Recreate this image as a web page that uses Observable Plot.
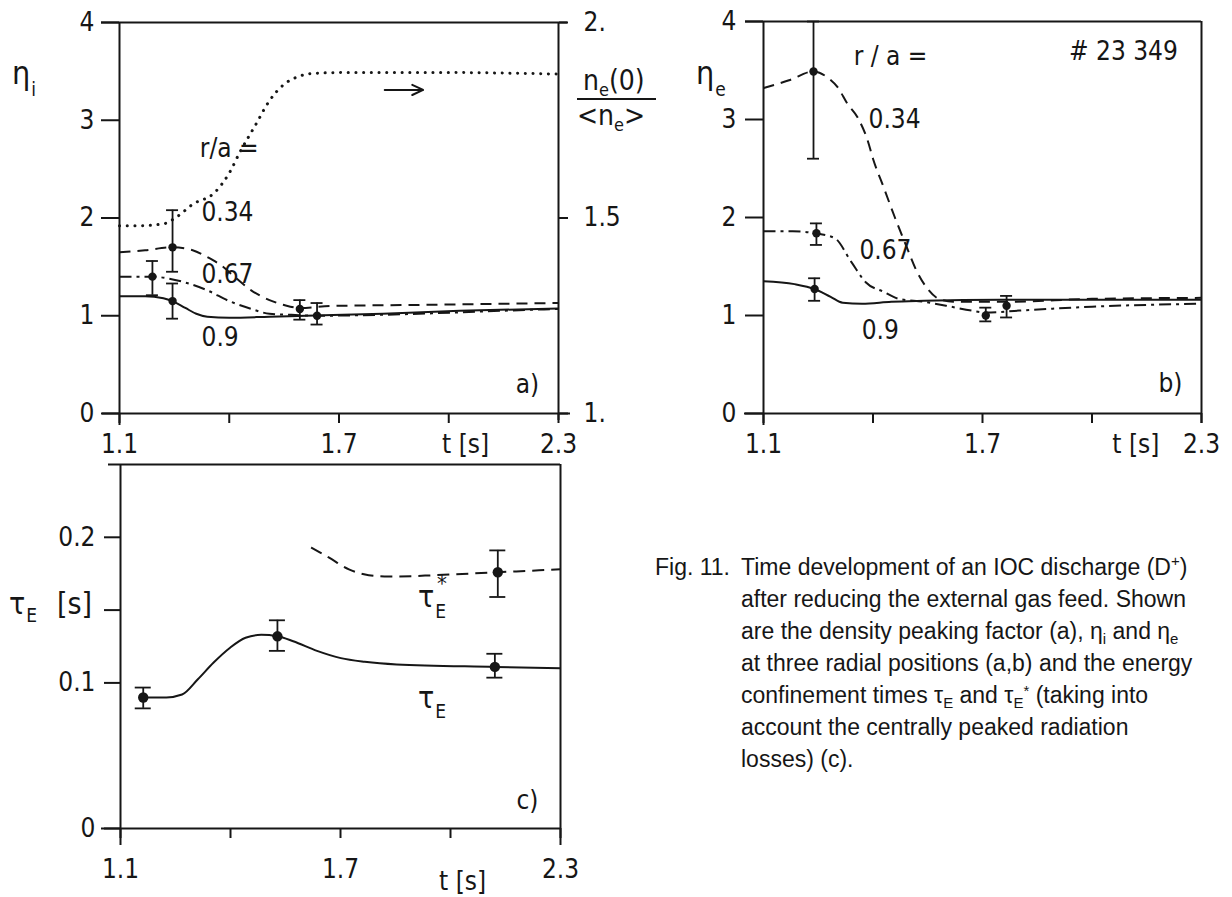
<!DOCTYPE html>
<html><head><meta charset="utf-8">
<script src="https://cdn.jsdelivr.net/npm/d3@7"></script>
<script src="https://cdn.jsdelivr.net/npm/@observablehq/plot@0.6"></script>
<style>
body{margin:0;background:#fff;}
#wrap{position:relative;width:1232px;height:897px;overflow:hidden;background:#fff;}
#wrap > div.p{position:absolute;}
#overlay{position:absolute;left:0;top:0;pointer-events:none;}
</style></head><body><div id="wrap"></div>
<script>
// ---------------- DATA ----------------
// Panel a: density peaking factor ne(0)/<ne> (right axis, dotted)
const tA_ratio = [1.1,1.15,1.22,1.26,1.30,1.36,1.40,1.43,1.47,1.51,1.55,1.59,1.63,1.72,2.0,2.3];
const ratioA   = [1.48,1.48,1.485,1.505,1.535,1.565,1.615,1.67,1.735,1.80,1.842,1.862,1.87,1.872,1.872,1.868];
// Panel a: eta_i at r/a = 0.34 (dashed), 0.67 (dash-dot), 0.9 (solid)
const tA_034 = [1.1,1.17,1.245,1.30,1.34,1.38,1.42,1.46,1.51,1.55,1.593,1.68,1.9,2.1,2.3];
const etaA_034 = [1.65,1.67,1.70,1.67,1.60,1.51,1.38,1.26,1.16,1.11,1.08,1.10,1.11,1.12,1.13];
const tA_067 = [1.1,1.19,1.235,1.28,1.34,1.40,1.46,1.51,1.57,1.64,1.82,2.14,2.3];
const etaA_067 = [1.40,1.40,1.38,1.34,1.26,1.15,1.07,1.02,1.01,1.0,1.01,1.05,1.07];
const tA_090 = [1.1,1.17,1.22,1.245,1.28,1.31,1.34,1.40,1.51,1.61,1.82,2.03,2.3];
const etaA_090 = [1.20,1.20,1.18,1.15,1.08,1.02,0.99,0.98,0.99,1.0,1.02,1.05,1.075];
// Panel a measured points with error bars
const ptA_t  = [1.245,1.19,1.245,1.593,1.64];
const ptA_v  = [1.70,1.40,1.15,1.07,1.00];
const ptA_lo = [1.45,1.21,0.97,0.96,0.91];
const ptA_hi = [2.08,1.56,1.33,1.16,1.13];

// Panel b: eta_e
const tB_034 = [1.1,1.17,1.237,1.275,1.303,1.33,1.358,1.385,1.40,1.43,1.46,1.49,1.52,1.55,1.58,1.62,1.70,1.77,2.0,2.3];
const etaB_034 = [3.32,3.40,3.49,3.43,3.33,3.16,3.02,2.79,2.60,2.30,2.00,1.72,1.45,1.27,1.17,1.14,1.14,1.14,1.17,1.18];
const tB_067 = [1.1,1.18,1.24,1.295,1.34,1.38,1.43,1.47,1.54,1.60,1.67,1.71,1.80,2.0,2.3];
const etaB_067 = [1.86,1.86,1.84,1.79,1.55,1.34,1.24,1.17,1.14,1.10,1.05,1.03,1.05,1.09,1.12];
const tB_090 = [1.1,1.185,1.24,1.284,1.317,1.37,1.45,1.54,1.75,2.3];
const etaB_090 = [1.35,1.32,1.27,1.19,1.13,1.12,1.14,1.15,1.16,1.16];
const ptB_t  = [1.237,1.245,1.24,1.766,1.709];
const ptB_v  = [3.49,1.84,1.27,1.10,1.00];
const ptB_lo = [2.60,1.72,1.15,0.98,0.94];
const ptB_hi = [4.00,1.94,1.38,1.20,1.08];

// Panel c: energy confinement times
const tC_tau = [1.162,1.225,1.268,1.311,1.354,1.398,1.441,1.484,1.528,1.571,1.636,1.701,1.766,1.853,2.121,2.3];
const tauC   = [0.090,0.090,0.092,0.1025,0.114,0.124,0.131,0.133,0.132,0.1286,0.122,0.117,0.1145,0.1127,0.111,0.110];
const tC_tauStar = [1.62,1.669,1.723,1.777,1.831,1.961,2.129,2.3];
const tauStarC   = [0.193,0.186,0.178,0.174,0.173,0.174,0.176,0.178];
const ptC_t  = [1.162,1.528,2.121,2.129];
const ptC_v  = [0.090,0.132,0.111,0.176];
const ptC_lo = [0.0825,0.122,0.1036,0.159];
const ptC_hi = [0.0968,0.143,0.120,0.191];

// Tick values and labels
const tTicks = [1.1,1.4,1.7,2.0,2.3];
const tLabeled = [1.1,1.7,2.3];
const etaTicks = [0,1,2,3,4];
const ratioTicks = [1,1.5,2];
const ratioLabels = ["1.","1.5","2."];
const tauTicks = [0,0.1,0.15,0.2];
const tauLabeled = [0,0.1,0.2];

// In-plot annotations (data coordinates)
const notesA = [
  {t:1.40, v:2.71, s:"r/a ="},
  {t:1.395, v:2.05, s:"0.34"},
  {t:1.395, v:1.42, s:"0.67"},
  {t:1.375, v:0.78, s:"0.9"},
  {t:2.215, v:0.30, s:"a)"}
];
const arrowA = [{t1:1.825, t2:1.93, v:3.31}];
const notesB = [
  {t:1.448, v:3.64, s:"r / a ="},
  {t:2.086, v:3.69, s:"# 23 349"},
  {t:1.459, v:3.00, s:"0.34"},
  {t:1.434, v:1.66, s:"0.67"},
  {t:1.42, v:0.85, s:"0.9"},
  {t:2.215, v:0.30, s:"b)"}
];
const notesC = [
  {t:2.21, v:0.019, s:"c)"}
];

// ---------------- DRAWING ----------------
const INK = "#161616";
const FONT = "'DejaVu Sans Condensed','DejaVu Sans',sans-serif";
const FS = 26;
const rows = (ts, vs) => ts.map((t,i)=>({t, v:vs[i]}));
const pts = (ts, vs, lo, hi) => ts.map((t,i)=>({t, v:vs[i], lo:lo[i], hi:hi[i]}));
const baseStyle = {background:"transparent", overflow:"visible", maxWidth:"none", fontFamily:FONT, fontSize:FS+"px", color:INK};

function errMarks(data, r, cap) {
  return [
    Plot.ruleX(data, {x:"t", y1:"lo", y2:"hi", stroke:INK, strokeWidth:1.8}),
    Plot.ruleY(data, {y:"lo", x1:"t", x2:"t", insetLeft:-cap, insetRight:-cap, stroke:INK, strokeWidth:1.8}),
    Plot.ruleY(data, {y:"hi", x1:"t", x2:"t", insetLeft:-cap, insetRight:-cap, stroke:INK, strokeWidth:1.8}),
    Plot.dot(data, {x:"t", y:"v", r, fill:INK, stroke:"none"})
  ];
}
const lineOpts = (dash, w=2) => ({x:"t", y:"v", curve:"monotone-x", stroke:INK, strokeWidth:w, strokeDasharray:dash, strokeLinecap:"butt"});
const tFmt = d => tLabeled.some(v=>Math.abs(v-d)<1e-9) ? d.toFixed(1) : "";

function bottomAxes(pad, labelPad, labelT) {
  return [
    Plot.axisX({ticks:tTicks, tickSize:10, tickPadding:pad, tickFormat:tFmt, label:null, strokeWidth:2}),
    Plot.axisX({ticks:[labelT], tickSize:0, tickPadding:labelPad, tickFormat:()=>"t [s]", label:null})
  ];
}
const textMarks = notes => Plot.text(notes, {x:"t", y:"v", text:"s", fontSize:FS, fill:INK, fontFamily:FONT});

// Panel a
const plotA = Plot.plot({
  width:640, height:470, marginLeft:119, marginRight:82, marginTop:22, marginBottom:57,
  x:{domain:[1.1,2.3]}, y:{domain:[0,4]}, style:baseStyle,
  marks:[
    Plot.ruleY([4], {insetLeft:-18, insetRight:-9, stroke:INK, strokeWidth:2}),
    Plot.ruleY([0], {insetLeft:-17, insetRight:-12, stroke:INK, strokeWidth:2}),
    Plot.ruleX([1.1], {insetBottom:-12, stroke:INK, strokeWidth:2}),
    Plot.ruleX([2.3], {insetBottom:-7, stroke:INK, strokeWidth:2}),
    Plot.axisY({ticks:etaTicks, tickSize:18, tickPadding:7, tickFormat:d=>String(d), label:null, strokeWidth:2}),
    Plot.axisY({anchor:"right", ticks:ratioTicks.map(r=>(r-1)*4), tickSize:9, tickPadding:16,
      tickFormat:d=>ratioLabels[ratioTicks.findIndex(r=>Math.abs((r-1)*4-d)<1e-9)], label:null, strokeWidth:2}),
    ...bottomAxes(11, 21, 2.046),
    Plot.line(rows(tA_ratio, ratioA), {x:"t", y:d=>(d.v-1)*4, curve:"monotone-x", stroke:INK, strokeWidth:3, strokeDasharray:"0.1,7.6", strokeLinecap:"round"}),
    Plot.line(rows(tA_034, etaA_034), lineOpts("11,7")),
    Plot.line(rows(tA_067, etaA_067), lineOpts("12,5,3,5")),
    Plot.line(rows(tA_090, etaA_090), lineOpts(null)),
    ...errMarks(pts(ptA_t, ptA_v, ptA_lo, ptA_hi), 4.2, 6),
    Plot.arrow(arrowA, {x1:"t1", x2:"t2", y1:"v", y2:"v", stroke:INK, strokeWidth:2, headLength:9, headAngle:50}),
    textMarks(notesA)
  ]
});

// Panel b
const plotB = Plot.plot({
  width:612, height:470, marginLeft:143, marginRight:31, marginTop:21, marginBottom:57,
  x:{domain:[1.1,2.3]}, y:{domain:[0,4]}, style:baseStyle,
  marks:[
    Plot.ruleY([4], {insetLeft:-18, stroke:INK, strokeWidth:2}),
    Plot.ruleY([0], {insetLeft:-19, stroke:INK, strokeWidth:2}),
    Plot.ruleX([1.1], {insetBottom:-12, stroke:INK, strokeWidth:2}),
    Plot.ruleX([2.3], {insetBottom:-10, stroke:INK, strokeWidth:2}),
    Plot.axisY({ticks:etaTicks, tickSize:18, tickPadding:9, tickFormat:d=>String(d), label:null, strokeWidth:2}),
    ...bottomAxes(11, 21, 2.12),
    Plot.line(rows(tB_034, etaB_034), lineOpts("11,7")),
    Plot.line(rows(tB_067, etaB_067), lineOpts("12,5,3,5")),
    Plot.line(rows(tB_090, etaB_090), lineOpts(null)),
    ...errMarks(pts(ptB_t, ptB_v, ptB_lo, ptB_hi), 4.2, 6),
    textMarks(notesB)
  ]
});

// Panel c
const plotC = Plot.plot({
  width:640, height:457, marginLeft:120, marginRight:80, marginTop:24, marginBottom:69,
  x:{domain:[1.1,2.3]}, y:{domain:[0,0.25]}, style:baseStyle,
  marks:[
    Plot.ruleY([0.25], {insetLeft:-12, stroke:INK, strokeWidth:2}),
    Plot.ruleY([0], {insetLeft:-19, stroke:INK, strokeWidth:2}),
    Plot.ruleX([1.1], {insetBottom:-17, stroke:INK, strokeWidth:2}),
    Plot.ruleX([2.3], {insetBottom:-17, stroke:INK, strokeWidth:2}),
    Plot.axisY({ticks:tauTicks, tickSize:16, tickPadding:9,
      tickFormat:d=>tauLabeled.some(v=>Math.abs(v-d)<1e-9) ? (d===0?"0":d.toFixed(1)) : "", label:null, strokeWidth:2}),
    ...bottomAxes(21, 43, 2.033),
    Plot.line(rows(tC_tauStar, tauStarC), lineOpts("12,7")),
    Plot.line(rows(tC_tau, tauC), lineOpts(null)),
    ...errMarks(pts(ptC_t, ptC_v, ptC_lo, ptC_hi), 5.2, 8),
    textMarks(notesC)
  ]
});

const wrap = document.getElementById("wrap");
function place(node, left, top) {
  const d = document.createElement("div"); d.className = "p";
  d.style.left = left + "px"; d.style.top = top + "px";
  d.appendChild(node); wrap.appendChild(d);
}
place(plotA, 0, 0);
place(plotB, 620, 0);
place(plotC, 0, 440);

// ---------------- AXIS TITLES & CAPTION (text overlay) ----------------
const NS = "http://www.w3.org/2000/svg";
const ov = document.createElementNS(NS, "svg");
ov.setAttribute("id","overlay"); ov.setAttribute("width",1232); ov.setAttribute("height",897);
wrap.appendChild(ov);
function txt(x, y, parts, family, size, anchor) {
  const t = document.createElementNS(NS, "text");
  t.setAttribute("x", x); t.setAttribute("y", y);
  t.setAttribute("font-family", family); t.setAttribute("font-size", size);
  t.setAttribute("fill", INK);
  if (anchor) t.setAttribute("text-anchor", anchor);
  for (const p of parts) {
    const s = document.createElementNS(NS, "tspan");
    if (typeof p === "string") { s.textContent = p; }
    else {
      s.textContent = p.s;
      if (p.dy) s.setAttribute("dy", p.dy);
      if (p.size) s.setAttribute("font-size", p.size);
      if (p.dx) s.setAttribute("dx", p.dx);
    }
    t.appendChild(s);
  }
  ov.appendChild(t);
  return t;
}
// eta_i
txt(12, 84, ["\u03b7", {s:"i", dy:12, size:19, dx:1}], FONT, 32);
// ne(0)/<ne>
txt(583, 90, ["n", {s:"e", dy:6, size:18}, {s:"(0)", dy:-6}], FONT, 28);
const bar = document.createElementNS(NS, "line");
bar.setAttribute("x1",577); bar.setAttribute("x2",656); bar.setAttribute("y1",99); bar.setAttribute("y2",99);
bar.setAttribute("stroke",INK); bar.setAttribute("stroke-width",2); ov.appendChild(bar);
txt(577, 125, ["<n", {s:"e", dy:6, size:18}, {s:">", dy:-6}], FONT, 28);
// eta_e
txt(696, 84, ["\u03b7", {s:"e", dy:12, size:19, dx:1}], FONT, 32);
// tau_E [s]
txt(9, 614, ["\u03c4", {s:"E", dy:8, size:19, dx:1}], FONT, 30);
txt(57, 614, ["[s]"], FONT, 30);
// tau_E*
txt(418, 607, ["\u03c4", {s:"E", dy:11, size:19, dx:1}], FONT, 30);
txt(437, 591, ["*"], FONT, 22);
// tau_E
txt(418, 708, ["\u03c4", {s:"E", dy:10, size:19, dx:1}], FONT, 30);

// Caption
const CAP = "'Liberation Sans Narrow','Liberation Sans',sans-serif";
const capX = 741, cap0 = 575, capDy = 32, capSize = 23;
txt(655, cap0, ["Fig. 11."], CAP, capSize);
txt(capX, cap0, ["Time development of an IOC discharge (D", {s:"+", dy:-9, size:15}, {s:")", dy:9}], CAP, capSize);
txt(capX, cap0+capDy, ["after reducing the external gas feed. Shown"], CAP, capSize);
txt(capX, cap0+2*capDy, ["are the density peaking factor (a),  \u03b7", {s:"i", dy:5, size:15}, {s:" and \u03b7", dy:-5}, {s:"e", dy:5, size:15}], CAP, capSize);
txt(capX, cap0+3*capDy, ["at three radial positions (a,b) and the energy"], CAP, capSize);
txt(capX, cap0+4*capDy, ["confinement times \u03c4", {s:"E", dy:5, size:15}, {s:" and \u03c4", dy:-5}, {s:"E", dy:5, size:15}, {s:"*", dy:-12, size:15}, {s:" (taking into", dy:7}], CAP, capSize);
txt(capX, cap0+5*capDy, ["account the centrally peaked radiation"], CAP, capSize);
txt(capX, cap0+6*capDy, ["losses) (c)."], CAP, capSize);
</script></body></html>
